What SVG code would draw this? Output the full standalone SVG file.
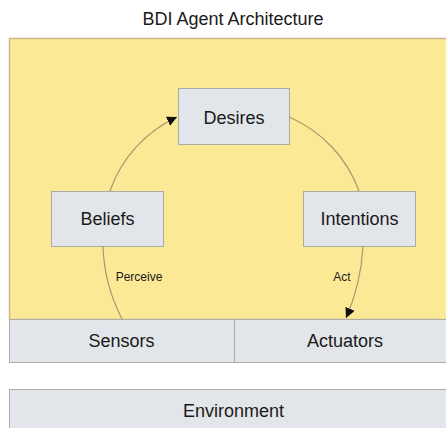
<svg xmlns="http://www.w3.org/2000/svg" width="446" height="428" viewBox="0 0 446 428">
<style>
text{font-family:"Liberation Sans",Arial,sans-serif;fill:#1a1a1a;text-anchor:middle}
.node{fill:#e2e5e9;stroke:#ababab;stroke-width:1}
.lbl{font-size:18px}
.small{font-size:12px}
.conn{fill:none;stroke:#a8996a;stroke-width:1.2}
</style>
<defs>
<marker id="ah" viewBox="0 0 10 10" refX="10" refY="5" markerWidth="10" markerHeight="10" markerUnits="userSpaceOnUse" orient="auto">
<path d="M0,0 L10,5 L0,10 z" fill="#111"/>
</marker>
</defs>
<rect width="446" height="428" fill="#ffffff"/>
<text x="233" y="25" class="lbl">BDI Agent Architecture</text>
<g id="agent">
<rect x="9.5" y="38.5" width="450" height="281" fill="#fce996" stroke="#c9b98c" stroke-width="1.5"/>
</g>
<g id="desires"><rect class="node" x="178.5" y="88.5" width="111" height="56"/><text x="234" y="124" class="lbl">Desires</text></g>
<g id="beliefs"><rect class="node" x="51.5" y="191.5" width="112" height="55"/><text x="107.5" y="225" class="lbl">Beliefs</text></g>
<g id="intentions"><rect class="node" x="303.5" y="191.5" width="112" height="55"/><text x="359.5" y="225" class="lbl">Intentions</text></g>
<g id="sensors"><rect class="node" x="9.5" y="319.5" width="225" height="43"/><text x="121.5" y="347" class="lbl">Sensors</text></g>
<g id="actuators"><rect class="node" x="234.5" y="319.5" width="222" height="43"/><text x="345" y="347" class="lbl">Actuators</text></g>
<g id="environment"><rect class="node" x="9.5" y="389.5" width="450" height="50"/><text x="233.5" y="417" class="lbl">Environment</text></g>
<g id="connectors">
<path class="conn" d="M110,191 A128,128 0 0,1 177,117" marker-end="url(#ah)"/>
<path class="conn" d="M289,117 A128,128 0 0,1 359,191"/>
<path class="conn" d="M103,246 Q104,284 122,319"/>
<path class="conn" d="M363,246 Q361,284 346,318" marker-end="url(#ah)"/>
<text x="139" y="281" class="small">Perceive</text>
<text x="342" y="281" class="small">Act</text>
</g>
</svg>
